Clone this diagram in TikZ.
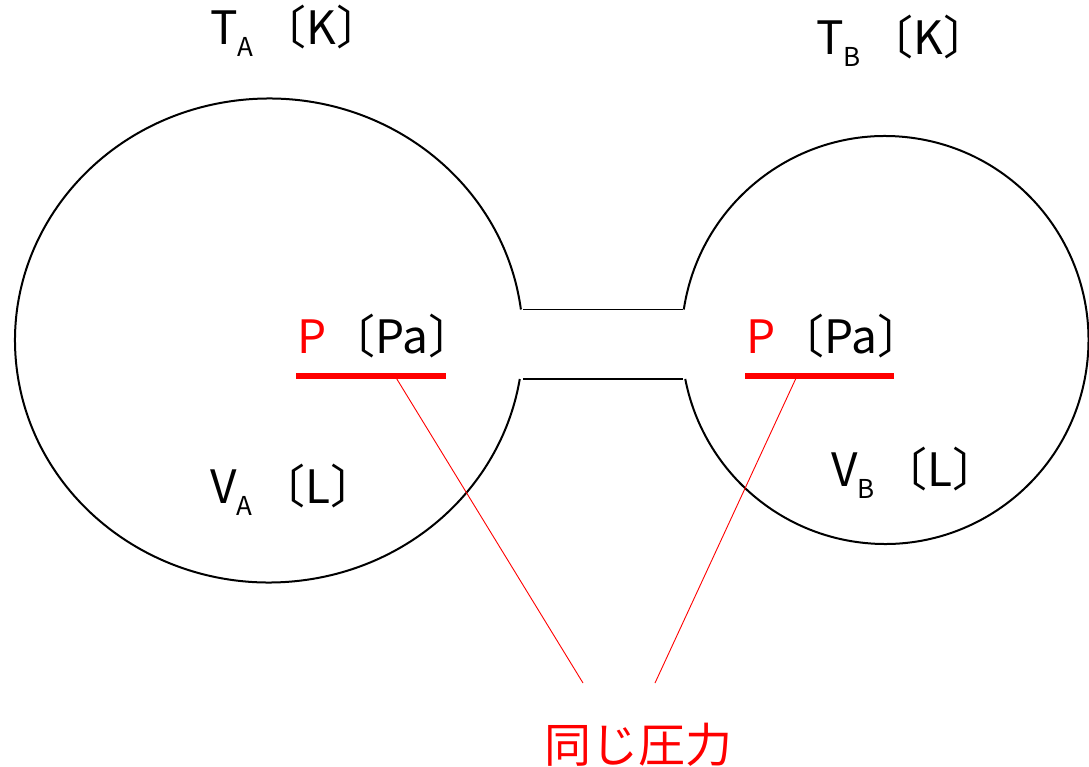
\documentclass[tikz,border=0pt]{standalone}
\usepackage{fontspec}
\setmainfont{Noto Sans CJK JP}
\newcommand\lowsub[1]{\raisebox{-12pt}{\fontsize{26}{26}\selectfont #1}\hspace{7pt}}
\begin{document}
\begin{tikzpicture}[x=1pt,y=-1pt,
  lbl/.style={inner sep=0pt,anchor=base west,font=\fontsize{46}{46}\selectfont},
  wall/.style={line width=2pt,black},
  tube/.style={line width=1.5pt,black},
  bar/.style={line width=6pt,red},
  lead/.style={line width=0.9pt,red}]
\useasboundingbox (0,0) rectangle (1089,767);
% left vessel
\draw[wall] (269,340.5) ++(7.36:254pt and 242pt) arc[start angle=7.36,end angle=350.85,x radius=254pt,y radius=242pt];
% right vessel
\draw[wall] (885,340) ++(171.4:203.5pt and 204pt) arc[start angle=171.4,end angle=-169.0,x radius=203.5pt,y radius=204pt];
% tube
\coordinate (t1) at (523,309.5);
\coordinate (t2) at (683,309.5);
\coordinate (t3) at (523,379);
\coordinate (t4) at (683,379);
\draw[tube] (t1) -- (t2);
\draw[tube] (t3) -- (t4);
% labels
\node[lbl] (ta) at (210,45) {T\lowsub{A}〔K〕};
\node[lbl] (tb) at (816,55) {T\lowsub{B}〔K〕};
\node[lbl] (va) at (210,503) {V\lowsub{A}〔L〕};
\node[lbl] (vb) at (831,486) {V\lowsub{B}〔L〕};
\node[lbl] (pa) at (297,353) {\textcolor{red}{P}\hspace{3pt}〔Pa〕};
\node[lbl] (pb) at (746,353) {\textcolor{red}{P}\hspace{3pt}〔Pa〕};
% bars
\coordinate (ba1) at (296,376);
\coordinate (ba2) at (446,376);
\coordinate (bb1) at (745,376);
\coordinate (bb2) at (894,376);
\draw[bar] (ba1) -- (ba2);
\draw[bar] (bb1) -- (bb2);
% leads
\coordinate (la) at (395,376);
\coordinate (lb) at (797,376);
\coordinate (ea) at (583,683);
\coordinate (eb) at (655,683);
\draw[lead] (la) -- (ea);
\draw[lead] (lb) -- (eb);
\node[inner sep=0pt,text=red,font=\fontsize{47}{47}\selectfont] (same) at (638,745) {同じ圧力};
\end{tikzpicture}
\end{document}
